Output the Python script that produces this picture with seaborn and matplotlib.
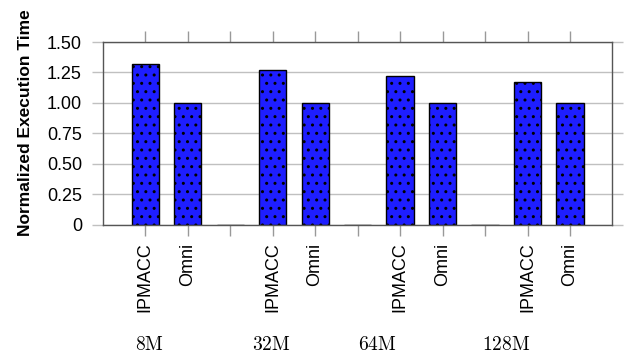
import numpy as np
import pandas as pd
import matplotlib
matplotlib.use('Agg')
import matplotlib.pyplot as plt
import seaborn as sns

# Data
sizes = ['8M', '32M', '64M', '128M']
systems = ['IPMACC', 'Omni']
ipmacc = [1.32, 1.27, 1.22, 1.17]
omni = [1.00, 1.00, 1.00, 1.00]

# build the slots: IPMACC, Omni, empty gap, ...
slot_vals = []
slot_labels = []
for i in range(len(sizes)):
    slot_vals += [ipmacc[i], omni[i]]
    slot_labels += systems
    if i < len(sizes) - 1:
        slot_vals.append(0.0)
        slot_labels.append('')
df = pd.DataFrame({'slot': np.arange(len(slot_vals)), 'value': slot_vals})

# where the group names sit (in slot units)
size_pos = [0.11, 2.96, 5.46, 8.5]

sns.set_style('white')
plt.rcParams['font.family'] = ['Liberation Sans', 'DejaVu Sans']
plt.rcParams['hatch.linewidth'] = 1.0
plt.rcParams['mathtext.fontset'] = 'cm'
plt.rcParams['text.color'] = 'black'
plt.rcParams['axes.labelcolor'] = 'black'

fig = plt.figure(figsize=(6.38, 3.56), dpi=100)
ax = fig.add_axes([0.161, 0.369, 0.799, 0.513])

sns.barplot(data=df, x='slot', y='value', color='#1e1eff', saturation=1,
            width=0.64, edgecolor='black', linewidth=1.0, ax=ax)
for p in ax.patches:
    p.set_hatch('..')

ax.set_xlim(-1, len(slot_vals))
ax.set_ylim(0, 1.5)
ax.set_yticks([0, 0.25, 0.5, 0.75, 1.0, 1.25, 1.5])
ax.set_yticklabels(['0', '0.25', '0.50', '0.75', '1.00', '1.25', '1.50'], fontsize=13)
ax.set_xticks(df['slot'])
ax.set_xticklabels(slot_labels, rotation=90, fontsize=13)
ax.yaxis.grid(True, color='#c0c0c0', linewidth=1.0)
ax.set_axisbelow(True)

ax.tick_params(axis='x', which='both', direction='out', length=8, width=1,
               color='#999999', labelcolor='black', top=True, bottom=True, pad=5)
ax.tick_params(axis='y', which='both', direction='out', length=8, width=1,
               color='#c0c0c0', labelcolor='black', left=True, right=True, pad=7)
for s in ax.spines.values():
    s.set_color('#555555')
    s.set_linewidth(1.0)

ax.set_xlabel('')
ax.set_ylabel('Normalized Execution Time', fontsize=12.5, fontweight='bold', color='black')
ax.yaxis.set_label_coords(-0.137, 0.56)

for name, pos in zip(sizes, size_pos):
    ax.text(pos, -0.99, r'$\mathrm{' + name + '}$', transform=ax.transData,
            ha='center', va='center', fontsize=14, color='black', clip_on=False)

plt.savefig('out.png', dpi=100)
